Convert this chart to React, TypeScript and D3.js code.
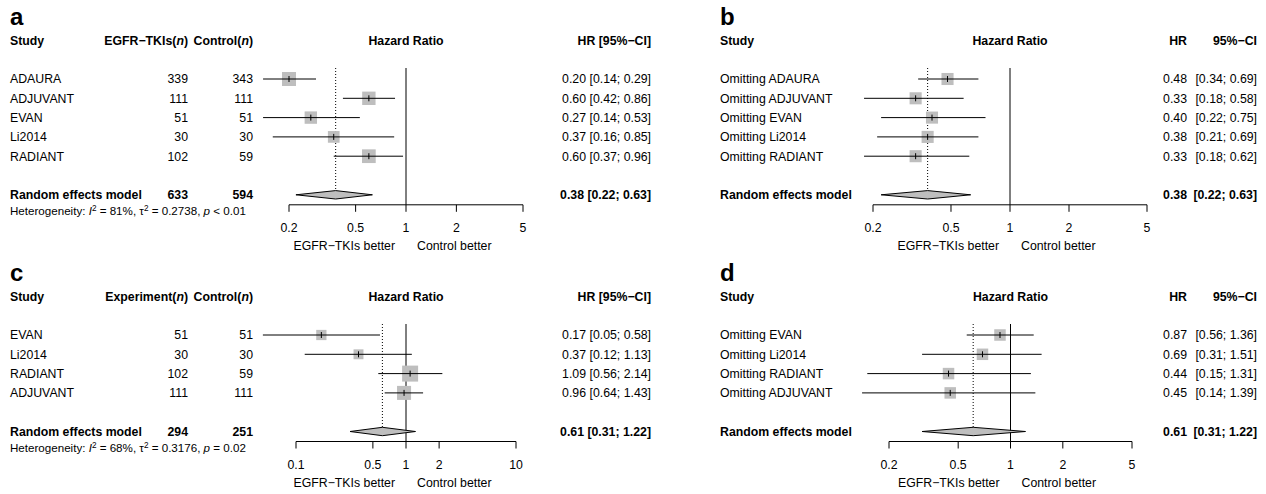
import React from 'react';
import * as d3 from 'd3';

// ---- panel a: EGFR-TKIs vs control, all trials
const studiesA = ['ADAURA', 'ADJUVANT', 'EVAN', 'Li2014', 'RADIANT'];
const nExpA = [339, 111, 51, 30, 102];
const nCtrlA = [343, 111, 51, 30, 59];
const hrA = [0.2, 0.6, 0.27, 0.37, 0.6];
const lowerA = [0.14, 0.42, 0.14, 0.16, 0.37];
const upperA = [0.29, 0.86, 0.53, 0.85, 0.96];
const weightA = [23, 21, 18, 16, 22];
const pooledA = [0.38, 0.22, 0.63];
const totalsA = [633, 594];
const hetA = ['81%', '0.2738', '< 0.01'];

// ---- panel b: leave-one-out for a
const studiesB = ['Omitting ADAURA', 'Omitting ADJUVANT', 'Omitting EVAN', 'Omitting Li2014', 'Omitting RADIANT'];
const hrB = [0.48, 0.33, 0.4, 0.38, 0.33];
const lowerB = [0.34, 0.18, 0.22, 0.21, 0.18];
const upperB = [0.69, 0.58, 0.75, 0.69, 0.62];
const weightB = [20, 20, 20, 20, 20];
const pooledB = [0.38, 0.22, 0.63];

// ---- panel c: subset of trials
const studiesC = ['EVAN', 'Li2014', 'RADIANT', 'ADJUVANT'];
const nExpC = [51, 30, 102, 111];
const nCtrlC = [51, 30, 59, 111];
const hrC = [0.17, 0.37, 1.09, 0.96];
const lowerC = [0.05, 0.12, 0.56, 0.64];
const upperC = [0.58, 1.13, 2.14, 1.43];
const weightC = [16, 15, 39, 30];
const pooledC = [0.61, 0.31, 1.22];
const totalsC = [294, 251];
const hetC = ['68%', '0.3176', '= 0.02'];

// ---- panel d: leave-one-out for c
const studiesD = ['Omitting EVAN', 'Omitting Li2014', 'Omitting RADIANT', 'Omitting ADJUVANT'];
const hrD = [0.87, 0.69, 0.44, 0.45];
const lowerD = [0.56, 0.31, 0.15, 0.14];
const upperD = [1.36, 1.51, 1.31, 1.39];
const weightD = [25, 25, 25, 25];
const pooledD = [0.61, 0.31, 1.22];

const ticksABD = [0.2, 0.5, 1, 2, 5];
const ticksC = [0.1, 0.5, 1, 2, 10];

const FONT = '"Liberation Sans", Arial, Helvetica, sans-serif';
const FS = 12.3;
const ROW = 19.3;
const BASE = FS * 0.35;
const GREY = '#bebebe';

const fmt = (v: number) => v.toFixed(2);

type Panel = {
  label: string;
  left: number;
  firstRow: number;
  studies: string[];
  hr: number[];
  lower: number[];
  upper: number[];
  weight: number[];
  sq: number;
  pooled: number[];
  ticks: number[];
  range: [number, number];
  nExp?: number[];
  nCtrl?: number[];
  totals?: number[];
  expHead?: string;
  het?: string[];
  split: boolean; // HR and CI in separate columns
};

const panels: Panel[] = [
  { label: 'a', left: 10, firstRow: 79, studies: studiesA, hr: hrA, lower: lowerA, upper: upperA, weight: weightA, sq: 2.92,
    pooled: pooledA, ticks: ticksABD, range: [289, 523], nExp: nExpA, nCtrl: nCtrlA, totals: totalsA, expHead: 'EGFR−TKIs', het: hetA, split: false },
  { label: 'b', left: 720, firstRow: 79, studies: studiesB, hr: hrB, lower: lowerB, upper: upperB, weight: weightB, sq: 2.7,
    pooled: pooledB, ticks: ticksABD, range: [873, 1147], split: true },
  { label: 'c', left: 10, firstRow: 335, studies: studiesC, hr: hrC, lower: lowerC, upper: upperC, weight: weightC, sq: 2.56,
    pooled: pooledC, ticks: ticksC, range: [296, 516], nExp: nExpC, nCtrl: nCtrlC, totals: totalsC, expHead: 'Experiment', het: hetC, split: false },
  { label: 'd', left: 720, firstRow: 335, studies: studiesD, hr: hrD, lower: lowerD, upper: upperD, weight: weightD, sq: 2.3,
    pooled: pooledD, ticks: ticksABD, range: [889, 1132], split: true },
];

function Forest({ p }: { p: Panel }) {
  const x = d3.scaleLog().domain([p.ticks[0], p.ticks[p.ticks.length - 1]]).range(p.range);
  const headY = p.firstRow - 2 * ROW;
  const rowY = (i: number) => p.firstRow + i * ROW;
  const poolY = rowY(p.studies.length + 1);
  const axisY = poolY + 10;
  const top = p.firstRow - 11;
  const one = x(1);
  const L = p.left;
  const colExp = L + 178;
  const colCtrl = L + 243;
  const hrRight = p.split ? L + 467 : L + 641;
  const ciRight = L + 537;

  const diamond = d3.line()([
    [x(p.pooled[1]), poolY],
    [x(p.pooled[0]), poolY - 4.2],
    [x(p.pooled[2]), poolY],
    [x(p.pooled[0]), poolY + 4.2],
  ]) + 'Z';

  const t = (s: React.ReactNode, xx: number, y: number, anchor = 'start', bold = false, key?: string | number) => (
    <text key={key} x={xx} y={y + BASE} textAnchor={anchor} fontWeight={bold ? 'bold' : 'normal'}>{s}</text>
  );

  return (
    <g>
      <text x={L} y={headY - 15} fontSize={24} fontWeight="bold">{p.label}</text>
      {t('Study', L, headY, 'start', true)}
      {p.nExp && t(<>{p.expHead}(<tspan fontStyle="italic">n</tspan>)</>, colExp, headY, 'end', true)}
      {p.nExp && t(<>Control(<tspan fontStyle="italic">n</tspan>)</>, colCtrl, headY, 'end', true)}
      {t('Hazard Ratio', one, headY, 'middle', true)}
      {p.split ? (
        <>
          {t('HR', hrRight, headY, 'end', true)}
          {t('95%−CI', ciRight, headY, 'end', true)}
        </>
      ) : t('HR [95%−CI]', hrRight, headY, 'end', true)}

      {p.studies.map((s, i) => (
        <g key={s}>
          {t(s, L, rowY(i))}
          {p.nExp && t(p.nExp[i], colExp, rowY(i), 'end')}
          {p.nCtrl && t(p.nCtrl[i], colCtrl, rowY(i), 'end')}
          {p.split ? (
            <>
              {t(fmt(p.hr[i]), hrRight, rowY(i), 'end')}
              {t(`[${fmt(p.lower[i])}; ${fmt(p.upper[i])}]`, ciRight, rowY(i), 'end')}
            </>
          ) : t(`${fmt(p.hr[i])} [${fmt(p.lower[i])}; ${fmt(p.upper[i])}]`, hrRight, rowY(i), 'end')}
        </g>
      ))}

      {t('Random effects model', L, poolY, 'start', true)}
      {p.totals && t(p.totals[0], colExp, poolY, 'end', true)}
      {p.totals && t(p.totals[1], colCtrl, poolY, 'end', true)}
      {p.split ? (
        <>
          {t(fmt(p.pooled[0]), hrRight, poolY, 'end', true)}
          {t(`[${fmt(p.pooled[1])}; ${fmt(p.pooled[2])}]`, ciRight, poolY, 'end', true)}
        </>
      ) : t(`${fmt(p.pooled[0])} [${fmt(p.pooled[1])}; ${fmt(p.pooled[2])}]`, hrRight, poolY, 'end', true)}

      {p.het && (
        <text x={L} y={poolY + 20} fontSize={11.6}>
          Heterogeneity: <tspan fontStyle="italic">I</tspan>
          <tspan dy={-4} fontSize={8.2}>2</tspan>
          <tspan dy={4}> = {p.het[0]}, τ</tspan>
          <tspan dy={-4} fontSize={8.2}>2</tspan>
          <tspan dy={4}> = {p.het[1]}, </tspan>
          <tspan fontStyle="italic">p</tspan> {p.het[2]}
        </text>
      )}

      {/* reference lines */}
      <line x1={one} x2={one} y1={top} y2={axisY} stroke="#000" strokeWidth={1} />
      <line x1={x(p.pooled[0])} x2={x(p.pooled[0])} y1={top} y2={poolY} stroke="#000" strokeWidth={1} strokeDasharray="1 2" />

      {/* study estimates */}
      {p.studies.map((s, i) => {
        const cx = x(p.hr[i]);
        const cy = rowY(i);
        const size = p.sq * Math.sqrt(p.weight[i]);
        return (
          <g key={'m' + s}>
            <rect x={cx - size / 2} y={cy - size / 2} width={size} height={size} fill={GREY} />
            <line x1={x(p.lower[i])} x2={x(p.upper[i])} y1={cy} y2={cy} stroke="#000" strokeWidth={1} />
            <line x1={cx} x2={cx} y1={cy - 3} y2={cy + 3} stroke="#000" strokeWidth={1} />
          </g>
        );
      })}
      <path d={diamond} fill={GREY} stroke="#000" strokeWidth={1} />

      {/* axis */}
      <line x1={p.range[0]} x2={p.range[1]} y1={axisY} y2={axisY} stroke="#000" strokeWidth={1} />
      {p.ticks.map(v => (
        <g key={'t' + v}>
          <line x1={x(v)} x2={x(v)} y1={axisY} y2={axisY + 7} stroke="#000" strokeWidth={1} />
          <text x={x(v)} y={axisY + 27} textAnchor="middle">{String(v)}</text>
        </g>
      ))}
      <text x={one - 11} y={axisY + 45} textAnchor="end">EGFR−TKIs better</text>
      <text x={one + 11} y={axisY + 45}>Control better</text>
    </g>
  );
}

export default function App() {
  return (
    <svg width={1266} height={494} style={{ position: 'absolute', left: 0, top: 0, background: '#fff' }}
      fontFamily={FONT} fontSize={FS} fill="#000">
      {panels.map(p => <Forest key={p.label} p={p} />)}
    </svg>
  );
}
